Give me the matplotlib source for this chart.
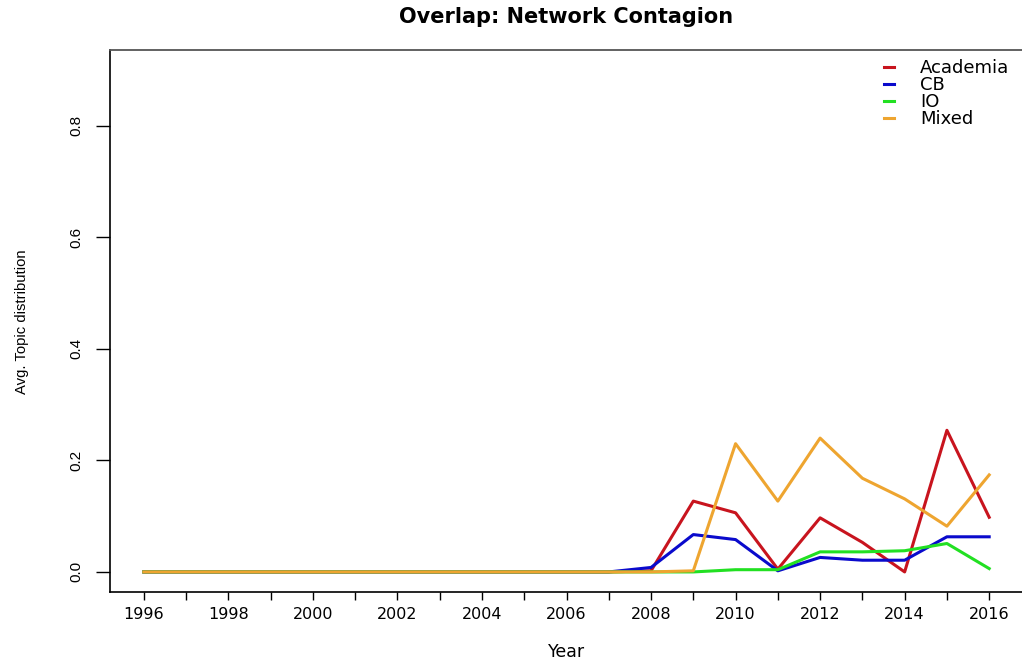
import numpy as np
import matplotlib
matplotlib.use('Agg')
import matplotlib.pyplot as plt

years = list(range(1996, 2017))

# valores (1996..2016)
academia = [0.0] * 12 + [0.002, 0.127, 0.106, 0.005, 0.097, 0.053, 0.0, 0.254, 0.098]
cb = [0.0] * 12 + [0.008, 0.067, 0.058, 0.002, 0.026, 0.021, 0.021, 0.063, 0.063]
io = [0.0] * 12 + [0.0, 0.0, 0.004, 0.004, 0.036, 0.036, 0.038, 0.051, 0.006]
mixed = [0.0] * 12 + [0.0, 0.002, 0.230, 0.127, 0.240, 0.168, 0.131, 0.082, 0.174]

series = [('Academia', academia, '#c8141e'),
          ('CB', cb, '#0a0acc'),
          ('IO', io, '#22e022'),
          ('Mixed', mixed, '#eea530')]

wide = ['DejaVu Sans']
narrow = ['Liberation Sans', 'DejaVu Sans']

def main():
    fig = plt.figure(figsize=(10.22, 6.61), dpi=100)
    ax = fig.add_axes([110 / 1022, 1 - 592 / 661, 913 / 1022, 542 / 661])

    for name, vals, col in series:
        ax.plot(years, vals, color=col, lw=2.2, label=name)

    ax.set_xlim(1995.2, 2016.8)
    ax.set_ylim(-0.036, 0.936)

    ax.set_xticks(years)
    ax.set_xticklabels([str(y) if y % 2 == 0 else '' for y in years],
                       family=wide, fontsize=11.5)
    ax.set_yticks([0.0, 0.2, 0.4, 0.6, 0.8])
    ax.set_yticklabels(['0.0', '0.2', '0.4', '0.6', '0.8'], rotation=90,
                       va='center', family=narrow, fontsize=11)
    ax.tick_params(axis='x', length=6, width=1, pad=5)
    ax.tick_params(axis='y', length=10, width=1, pad=9)

    for s in ['left', 'bottom']:
        ax.spines[s].set_linewidth(1.2)
        ax.spines[s].set_color('black')
    ax.spines['top'].set_color('#555555')
    ax.spines['top'].set_linewidth(1.3)
    ax.spines['right'].set_visible(False)

    ax.set_xlabel('Year', family=wide, fontsize=12.5, labelpad=15)
    fig.text(22 / 1022, 1 - 322 / 661, 'Avg. Topic distribution', rotation=90,
             ha='center', va='center', family=narrow, fontsize=10.7)
    fig.text(566 / 1022, 1 - 17 / 661, 'Overlap: Network Contagion',
             ha='center', va='center', fontsize=15, fontweight='bold',
             family=wide)

    ax.legend(frameon=False, loc='upper left', bbox_to_anchor=(0.83, 1.013),
              handlelength=0.55, handletextpad=1.45, labelspacing=-0.06,
              prop={'family': wide, 'size': 13})

    fig.savefig('out.png', dpi=100)


if __name__ == "__main__":
    main()
